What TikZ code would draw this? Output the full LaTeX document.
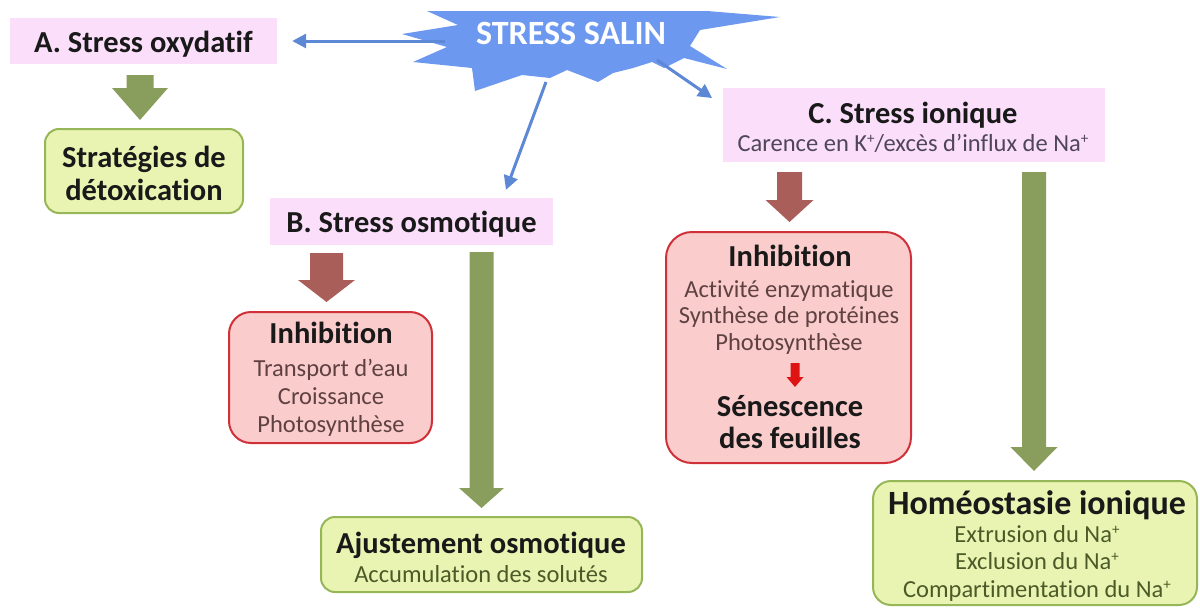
\documentclass[tikz,border=0pt]{standalone}
\usepackage{fontspec}
\setmainfont{Carlito}[Ligatures=NoCommon]
\usetikzlibrary{arrows.meta,calc}

\definecolor{starblue}{RGB}{108,152,240}
\definecolor{linkblue}{RGB}{92,136,214}
\definecolor{pinkfill}{RGB}{250,222,250}
\definecolor{greenfill}{RGB}{234,244,178}
\definecolor{greenline}{RGB}{150,182,88}
\definecolor{redfill}{RGB}{250,204,204}
\definecolor{redline}{RGB}{208,48,56}
\definecolor{fatgreen}{RGB}{137,158,92}
\definecolor{fatbrown}{RGB}{170,94,90}
\definecolor{fatred}{RGB}{222,20,20}
\definecolor{titlecol}{RGB}{25,25,25}
\definecolor{pinktxt}{RGB}{80,70,90}
\definecolor{redtxt}{RGB}{95,65,65}
\definecolor{greentxt}{RGB}{75,90,40}

% small raised plus sign for ions
\newcommand\ionplus{\raisebox{0.32em}{\fontsize{15}{15}\selectfont +}}

% block arrow: colour, x, top, head start, tip, half shaft, half head
\newcommand\fatarrow[7]{%
  \fill[#1] (#2-#6,#3) -- (#2+#6,#3) -- (#2+#6,#4) -- (#2+#7,#4)
    -- (#2,#5) -- (#2-#7,#4) -- (#2-#6,#4) -- cycle;}

\begin{document}
\begin{tikzpicture}[x=1pt,y=-1pt,
    pinkbox/.style={fill=pinkfill, inner sep=0pt},
    greenbox/.style={draw=greenline, line width=2pt, fill=greenfill, rounded corners=14pt, inner sep=0pt},
    redbox/.style={draw=redline, line width=2pt, fill=redfill, rounded corners=22pt, inner sep=0pt},
    ttl/.style={anchor=base, inner sep=0pt, text=titlecol, font=\fontsize{30.5}{34}\selectfont\bfseries},
    sub/.style={anchor=base, inner sep=0pt, font=\fontsize{24.5}{28}\selectfont},
    link/.style={draw=linkblue, line width=3pt, -{Triangle[length=14pt,width=14pt]}}]
  \useasboundingbox (0,0) rectangle (1200,608);

  % star
  \fill[starblue] (427,11) -- (707,11) -- (780,17) -- (700,30) -- (690,46)
    -- (727,69) -- (684,58) -- (664,68) -- (652,62) -- (633,68) -- (613,73)
    -- (598,82) -- (567,70) -- (550,78) -- (522,75) -- (475,91) -- (472,68)
    -- (413,62) -- (447,47) -- (402,34) -- (458,25) -- cycle;
  \node[text=white, inner sep=0pt, font=\fontsize{34}{38}\selectfont\bfseries] (salin) at (571,33) {STRESS SALIN};

  % boxes
  \node[pinkbox, minimum width=267, minimum height=46] (oxy) at (143.5,41) {};
  \node[greenbox, minimum width=198, minimum height=84] (detox) at (144,171) {};
  \node[pinkbox, minimum width=283, minimum height=47] (osmo) at (411.5,221.5) {};
  \node[pinkbox, minimum width=382, minimum height=74] (ion) at (914,125) {};
  \node[redbox, minimum width=203, minimum height=131] (inhA) at (330.5,377.5) {};
  \node[greenbox, minimum width=321, minimum height=75] (ajust) at (481.5,554.5) {};
  \node[redbox, minimum width=245, minimum height=231, rounded corners=26pt] (inhB) at (788.5,347.5) {};
  \node[greenbox, minimum width=324, minimum height=124, rounded corners=18pt] (homeo) at (1035,543) {};

  % labels
  \node[ttl] (oxyT) at (143.5,52) {A. Stress oxydatif};
  \node[ttl] (detoxT1) at (144,167) {Stratégies de};
  \node[ttl] (detoxT2) at (144,200) {détoxication};
  \node[ttl] (osmoT) at (411.5,232) {B. Stress osmotique};
  \node[ttl] (ionT) at (913,123) {C. Stress ionique};
  \node[sub, text=pinktxt] (ionS) at (913,151) {Carence en K\ionplus/excès d’influx de Na\ionplus};
  \node[ttl] (inhAT) at (331,343) {Inhibition};
  \node[sub, text=redtxt] (inhA1) at (331,376) {Transport d’eau};
  \node[sub, text=redtxt] (inhA2) at (331,404) {Croissance};
  \node[sub, text=redtxt] (inhA3) at (331,432) {Photosynthèse};
  \node[ttl] (ajustT) at (481,553) {Ajustement osmotique};
  \node[sub, text=greentxt] (ajustS) at (481,582) {Accumulation des solutés};
  \node[ttl] (inhBT) at (790,266) {Inhibition};
  \node[sub, text=redtxt] (inhB1) at (789,297) {Activité enzymatique};
  \node[sub, text=redtxt] (inhB2) at (789,323) {Synthèse de protéines};
  \node[sub, text=redtxt] (inhB3) at (789,350) {Photosynthèse};
  \node[ttl] (inhB4) at (790,416) {Sénescence};
  \node[ttl] (inhB5) at (790,448) {des feuilles};
  \node[ttl, font=\fontsize{34}{38}\selectfont\bfseries] (homeoT) at (1037,514) {Homéostasie ionique};
  \node[sub, text=greentxt] (homeo1) at (1037,542) {Extrusion du Na\ionplus};
  \node[sub, text=greentxt] (homeo2) at (1037,569) {Exclusion du Na\ionplus};
  \node[sub, text=greentxt] (homeo3) at (1037,597) {Compartimentation du Na\ionplus};

  % block arrows
  \fatarrow{fatgreen}{140}{75}{88}{120}{13.5}{28}
  \fatarrow{fatbrown}{326.5}{253}{280}{302}{16.5}{28.5}
  \fatarrow{fatgreen}{481.5}{252}{488}{508}{12}{22.5}
  \fatarrow{fatbrown}{789.5}{172}{200}{222}{12.5}{24}
  \fatarrow{fatgreen}{1034}{172}{447}{471}{12}{23.5}
  \fatarrow{fatred}{795}{363}{377}{387}{4.5}{8.5}

  % links from the star
  \coordinate (sA) at (445,41);
  \coordinate (sB) at (546,82);
  \coordinate (sC) at (657,60);
  \draw[link, shorten >=15pt] (sA) -- (oxy.east);
  \draw[link, shorten >=8.5pt] (sB) -- ($(osmo.north)+(91.5,0)$);
  \draw[link, shorten >=13pt] (sC) -- ($(ion.north west)+(0,17.6)$);
\end{tikzpicture}
\end{document}
